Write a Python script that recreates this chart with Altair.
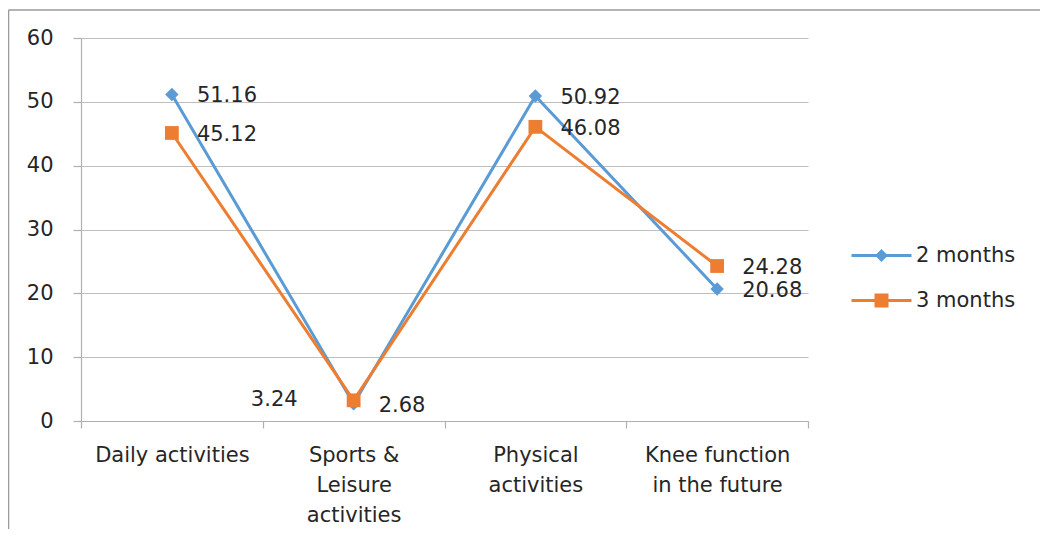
import altair as alt
import pandas as pd

categories = ["Daily activities", "Sports &\nLeisure\nactivities", "Physical\nactivities", "Knee function\nin the future"]
series_names = ["2 months", "3 months"]
two_months = [51.16, 2.68, 50.92, 20.68]
three_months = [45.12, 3.24, 46.08, 24.28]
colors = ["#5B9BD5", "#ED7D31"]
y_ticks = [0, 10, 20, 30, 40, 50, 60]

rows = []
for s, vals in zip(series_names, [two_months, three_months]):
    for c, v in zip(categories, vals):
        rows.append({"series": s, "category": c, "value": v})
df = pd.DataFrame(rows)

FONT = "DejaVu Sans"
TXT = "#262626"
FS = 21

x_enc = alt.X(
    "category:N", sort=categories, bandPosition=0.5,
    scale=alt.Scale(type="band", paddingInner=0, paddingOuter=0),
    axis=alt.Axis(title=None, labelAngle=0, labelExpr="split(datum.label, '\\n')",
                  tickBand="extent", tickSize=7, labelPadding=16, labelLineHeight=30,
                  grid=False),
)
y_enc = alt.Y(
    "value:Q", scale=alt.Scale(domain=[0, 60], nice=False, zero=True),
    axis=alt.Axis(title=None, values=y_ticks, tickSize=8, labelPadding=20, grid=True),
)
color_scale = alt.Scale(domain=series_names, range=colors)

base = alt.Chart(df)

lines = base.mark_line(strokeWidth=3).encode(
    x=x_enc, y=y_enc, color=alt.Color("series:N", scale=color_scale, legend=None)
)
pts2 = base.transform_filter(alt.datum.series == "2 months").mark_point(
    filled=True, shape="diamond", size=180, opacity=1
).encode(x=x_enc, y=y_enc, color=alt.Color("series:N", scale=color_scale, legend=None))
pts3 = base.transform_filter(alt.datum.series == "3 months").mark_point(
    filled=True, shape="square", size=190, opacity=1
).encode(x=x_enc, y=y_enc, color=alt.Color("series:N", scale=color_scale, legend=None))

is_left = "datum.series == '3 months' && indexof(datum.category, 'Sports') == 0"
labels_right = base.transform_filter("!(" + is_left + ")").mark_text(
    align="left", baseline="middle", dx=25, dy=2, fontSize=FS, font=FONT, color=TXT
).encode(x=x_enc, y=y_enc, text=alt.Text("value:Q", format=".2f"))
labels_left = base.transform_filter(is_left).mark_text(
    align="right", baseline="middle", dx=-56, dy=0, fontSize=FS, font=FONT, color=TXT
).encode(x=x_enc, y=y_enc, text=alt.Text("value:Q", format=".2f"))

diamond_path = "M-3,-0.15L3,-0.15L3,0.15L-3,0.15Z M0,-0.65L0.65,0L0,0.65L-0.65,0Z"
square_path = "M-3,-0.15L3,-0.15L3,0.15L-3,0.15Z M-0.7,-0.7L0.7,-0.7L0.7,0.7L-0.7,0.7Z"

leg = alt.Legend(
    orient="none", legendX=790, legendY=207, title=None,
    labelFont=FONT, labelFontSize=FS, labelColor=TXT,
    symbolSize=400, symbolStrokeWidth=0, symbolOpacity=1, symbolFillColor=None,
    labelOffset=24, rowPadding=23, padding=0,
)
legend_layer = base.mark_point(filled=True, size=400, opacity=0).encode(
    x=x_enc, y=y_enc,
    color=alt.Color("series:N", scale=color_scale, legend=leg),
    shape=alt.Shape("series:N", scale=alt.Scale(domain=series_names, range=[diamond_path, square_path]), legend=leg),
)

border_data = alt.Data(values=[{"k": 1}])
border_left = alt.Chart(border_data).mark_rule(color="#9A9A9A", strokeWidth=1.5).encode(
    x=alt.value(-72.5), y=alt.value(-28), y2=alt.value(600)
)
border_top = alt.Chart(border_data).mark_rule(color="#9A9A9A", strokeWidth=1.5).encode(
    x=alt.value(-72.5), x2=alt.value(1100), y=alt.value(-28)
)

chart = alt.layer(
    border_left, border_top, legend_layer, lines, pts2, pts3, labels_right, labels_left
).properties(
    width=727, height=383,
    autosize=alt.AutoSizeParams(type="none"),
    padding={"left": 73, "top": 30, "right": 232, "bottom": 108},
).configure_view(stroke=None).configure_axis(
    domainColor="#B0B0B0", tickColor="#B0B0B0", gridColor="#BFBFBF",
    labelFont=FONT, labelFontSize=FS, labelColor=TXT, domainWidth=1.2, tickWidth=1.2,
)

chart.save("out.html", embed_options={"renderer": "svg", "actions": False})
